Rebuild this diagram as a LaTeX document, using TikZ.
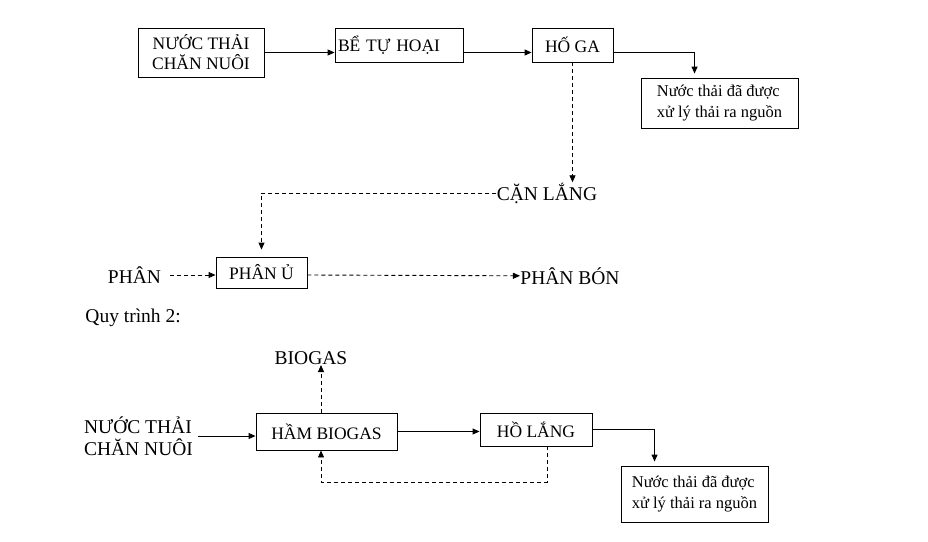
\documentclass[tikz,border=0pt]{standalone}
\usepackage{fontspec}
\setmainfont{Liberation Serif}
\usetikzlibrary{arrows.meta}

\begin{document}
\begin{tikzpicture}[x=1pt, y=-1pt, line width=0.9pt,
	>={Triangle[length=7pt,width=6pt]},
	box/.style={draw, inner sep=3pt, font=\fontsize{17.5}{20}\selectfont, align=center},
	small/.style={draw, inner sep=3pt, font=\fontsize{16.5}{21.5}\selectfont, align=left},
	lbl/.style={inner sep=0pt, font=\fontsize{19.5}{22}\selectfont},
	dsh/.style={dash pattern=on 4pt off 3pt}]
	\useasboundingbox (0,0) rectangle (928,541);
	% first line
	\node[box, minimum width=126, minimum height=49]	(1)	at (201, 52.5)	{NƯỚC THẢI\\CHĂN NUÔI};
	\node[box, minimum height=34, text width=122, align=left]	(2)	at (399, 45)	{BỂ TỰ HOẠI};
	\node[box, minimum width=81, minimum height=34]	(3)	at (572.5, 45)	{HỐ GA};
	\node[small, minimum width=157, minimum height=50]	(4)	at (719.5, 103)	{Nước thải đã được\\xử lý thải ra nguồn};
	\draw[->] (1) -- (1 -| 2.west);
	\draw[->] (2.east |- 1) -- (1 -| 3.west);
	\draw[->, shorten >=4pt] (3.east |- 1) -| ([xshift=54pt]4.north west);
	\node[lbl]		(5)	at (547, 193)	{CẶN LẮNG};
	\draw[dsh, ->] (3) -- (3 |- 5.north);
	\node[box, minimum width=91, minimum height=31]	(6)	at (261.5, 272.5)	{PHÂN Ủ};
	\draw[dsh, ->, shorten >=7pt] (5) -| (6);
	\node[lbl]		(7)	at (134.5, 275)	{PHÂN};
	\node[lbl]		(8)	at (570, 276)	{PHÂN BÓN};
	\draw[dsh, ->, shorten <=9pt] (7) -- (7 -| 6.west);
	\draw[dsh, ->] (6.east |- 7) -- (8);
	% second line
	\node[lbl, anchor=west]	(9)	at (85, 318)	{Quy trình 2:};
	\node[lbl]		(10)	at (311, 358)	{BIOGAS};
	\node[box, minimum width=141, minimum height=37]	(11)	at (326.5, 431.5)	{HẦM BIOGAS};
	\node[lbl, align=left]	(12)	at (138.5, 436)	{NƯỚC THẢI\\CHĂN NUÔI};
	\node[box, minimum width=112, minimum height=33]	(13)	at (536, 429.5)	{HỒ LẮNG};
	\node[small, minimum width=147, minimum height=56]	(14)	at (694.5, 494)	{Nước thải đã được\\xử lý thải ra nguồn};
	\coordinate (c) at (321, 482);
	\coordinate (d) at (547, 482);
	\draw[dsh, ->] (c |- 11.north) -- (c |- 10.south);
	\draw[->, shorten <=5pt] (12.east) -- (12.east -| 11.west);
	\draw[->] (11) -- (11 -| 13.west);
	\draw[->, shorten >=4pt] (13) -| ([xshift=34pt]14.north west);
	\draw[dsh, ->] (d |- 13.south) -- (d) -- (c) -- (c |- 11.south);
\end{tikzpicture}
\end{document}
